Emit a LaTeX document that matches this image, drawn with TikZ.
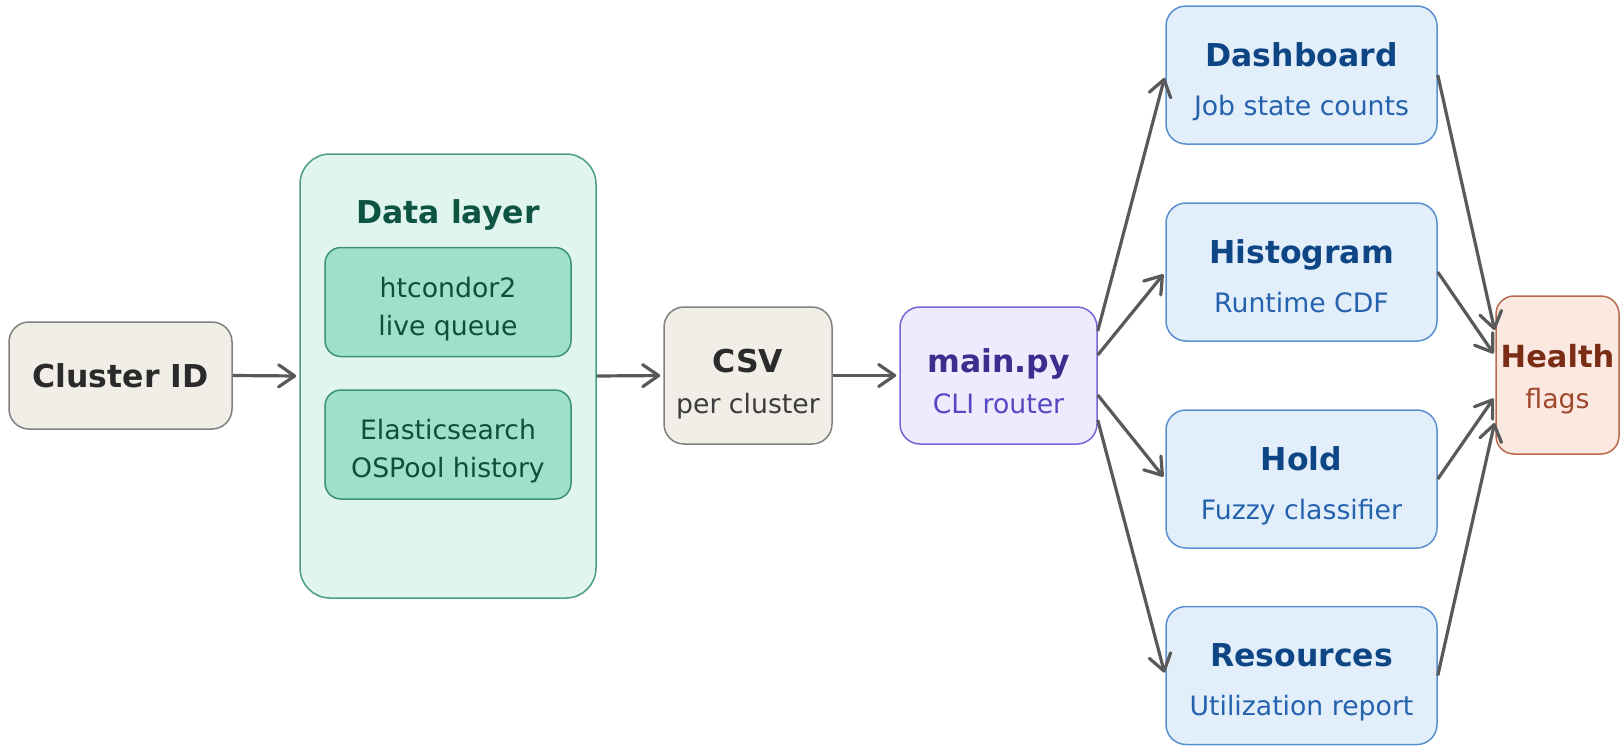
\documentclass[tikz,border=0pt]{standalone}
\usepackage{fontspec}
\setmainfont{DejaVu Sans}
\usetikzlibrary{arrows.meta,calc}
\definecolor{gfill}{HTML}{F1EEE8}
\definecolor{gdraw}{HTML}{808080}
\definecolor{gtext}{HTML}{2A2A2A}
\definecolor{gsub}{HTML}{3C3C3C}
\definecolor{dlfill}{HTML}{DFF5EE}
\definecolor{dldraw}{HTML}{4C9E80}
\definecolor{dltext}{HTML}{0D5443}
\definecolor{infill}{HTML}{9EE1C9}
\definecolor{indraw}{HTML}{3E9172}
\definecolor{intext}{HTML}{0F4E3C}
\definecolor{mfill}{HTML}{EDEBFD}
\definecolor{mdraw}{HTML}{7466D4}
\definecolor{mtitle}{HTML}{3B2E8E}
\definecolor{msub}{HTML}{5548C2}
\definecolor{bfill}{HTML}{E2EFFB}
\definecolor{bdraw}{HTML}{5A90CF}
\definecolor{btitle}{HTML}{0E4585}
\definecolor{bsub}{HTML}{2462AE}
\definecolor{hfill}{HTML}{FBE8E0}
\definecolor{hdraw}{HTML}{B8694E}
\definecolor{htitle}{HTML}{7A2C14}
\definecolor{hsub}{HTML}{A0482C}
\definecolor{arrc}{HTML}{595959}
\begin{document}
\begin{tikzpicture}[x=1pt,y=-1pt,
  box/.style={draw, line width=1.5pt, inner sep=0pt, rounded corners=20pt},
  graybox/.style={box, fill=gfill, draw=gdraw},
  dlbox/.style={box, fill=dlfill, draw=dldraw, rounded corners=30pt},
  inbox/.style={box, fill=infill, draw=indraw, rounded corners=16pt, minimum width=246pt, minimum height=109pt},
  mainbox/.style={box, fill=mfill, draw=mdraw},
  bluebox/.style={box, fill=bfill, draw=bdraw, minimum width=271pt, minimum height=138pt},
  healthbox/.style={box, fill=hfill, draw=hdraw, rounded corners=18pt},
  title/.style={font=\fontsize{31.5}{36}\selectfont\bfseries, anchor=base, inner sep=0pt},
  sub/.style={font=\fontsize{26.7}{32}\selectfont, anchor=base, inner sep=0pt},
  arr/.style={draw=arrc, line width=3.2pt, -{Straight Barb[length=16pt,width=22pt,round]}, shorten >=3pt},
]
\useasboundingbox (0,0) rectangle (1623,745);

% Cluster ID
\node[graybox, minimum width=223pt, minimum height=107pt, font=\fontsize{31.5}{36}\selectfont\bfseries, text=gtext] (cid) at (120.5,375.5) {Cluster ID};

% Data layer
\node[dlbox, minimum width=296pt, minimum height=444pt] (dl) at (448,376) {};
\node[title, text=dltext] (dlT) at (448,223) {Data layer};
\node[inbox] (hc) at (448,302) {};
\node[sub, text=intext] (hc1) at ($(hc.center)+(0,-5)$) {htcondor2};
\node[sub, text=intext] (hc2) at ($(hc.center)+(0,33)$) {live queue};
\node[inbox] (es) at (448,444.5) {};
\node[sub, text=intext] (es1) at ($(es.center)+(0,-5)$) {Elasticsearch};
\node[sub, text=intext] (es2) at ($(es.center)+(0,33)$) {OSPool history};

% CSV
\node[graybox, minimum width=168pt, minimum height=137pt] (csv) at (748,375.5) {};
\node[title, text=gtext] (csvT) at ($(csv.center)+(0,-3.5)$) {CSV};
\node[sub, text=gsub] (csvS) at ($(csv.center)+(0,37.5)$) {per cluster};

% main.py
\node[mainbox, minimum width=197pt, minimum height=137pt] (main) at (998.5,375.5) {};
\node[title, text=mtitle] (mainT) at ($(main.center)+(0,-3.5)$) {main.py};
\node[sub, text=msub] (mainS) at ($(main.center)+(0,37.5)$) {CLI router};

% Right column
\node[bluebox] (dash) at (1301.5,75) {};
\node[title, text=btitle] (dashT) at ($(dash.center)+(0,-9)$) {Dashboard};
\node[sub, text=bsub] (dashS) at ($(dash.center)+(0,40)$) {Job state counts};

\node[bluebox] (hist) at (1301.5,272) {};
\node[title, text=btitle] (histT) at ($(hist.center)+(0,-9)$) {Histogram};
\node[sub, text=bsub] (histS) at ($(hist.center)+(0,40)$) {Runtime CDF};

\node[bluebox] (hold) at (1301.5,479) {};
\node[title, text=btitle] (holdT) at ($(hold.center)+(0,-9)$) {Hold};
\node[sub, text=bsub] (holdS) at ($(hold.center)+(0,40)$) {Fuzzy classifier};

\node[bluebox] (res) at (1301.5,675.5) {};
\node[title, text=btitle] (resT) at ($(res.center)+(0,-9)$) {Resources};
\node[sub, text=bsub] (resS) at ($(res.center)+(0,40)$) {Utilization report};

% Health
\node[healthbox, minimum width=123pt, minimum height=158pt] (health) at (1557.5,375) {};
\node[title, font=\fontsize{30.5}{36}\selectfont\bfseries, text=htitle] (healthT) at ($(health.center)+(0,-8)$) {Health};
\node[sub, text=hsub] (healthS) at ($(health.center)+(0,33)$) {flags};

% Connectors
\draw[arr] (cid.east) -- (dl.west);
\draw[arr] (dl.east) -- (csv.west);
\draw[arr] (csv.east) -- (main.west);
\draw[arr] ($(main.east)+(0,-44.5)$) -- (dash.west);
\draw[arr] ($(main.east)+(0,-20.5)$) -- (hist.west);
\draw[arr] ($(main.east)+(0,19.5)$) -- (hold.west);
\draw[arr] ($(main.east)+(0,44.5)$) -- (res.west);
\draw[arr] (dash.east) -- ($(health.west)+(0,-42)$);
\draw[arr] (hist.east) -- ($(health.west)+(0,-19)$);
\draw[arr] (hold.east) -- ($(health.west)+(0,21)$);
\draw[arr] (res.east) -- ($(health.west)+(0,45)$);
\end{tikzpicture}
\end{document}
